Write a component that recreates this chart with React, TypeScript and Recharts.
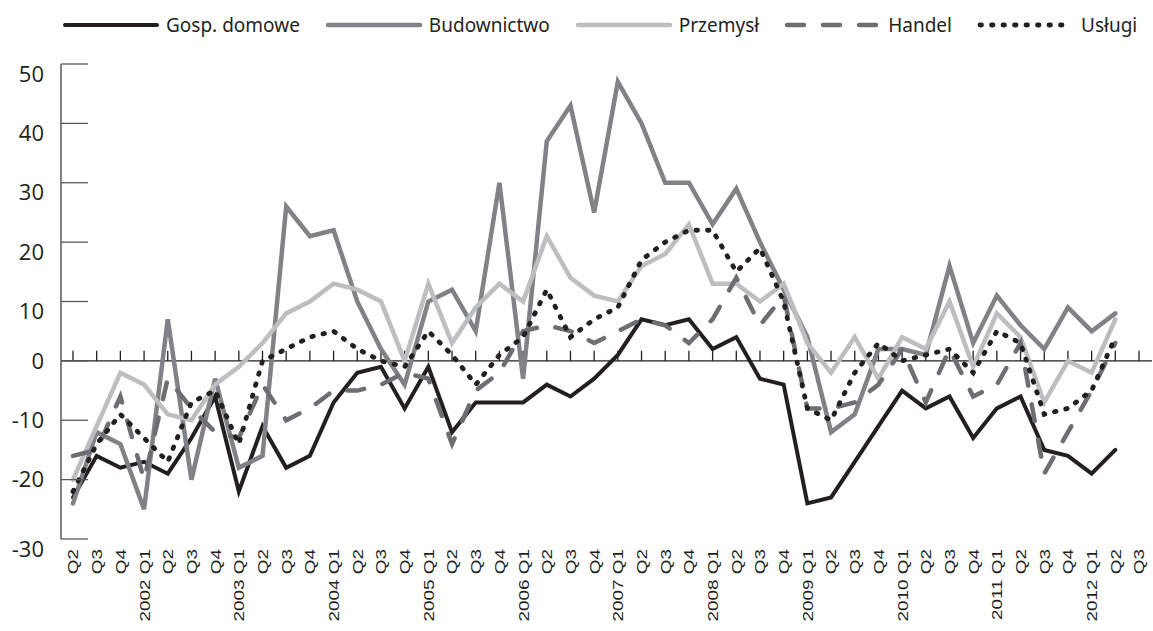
import { LineChart, Line, XAxis, YAxis, ReferenceLine } from 'recharts';

// quarters 2001 Q2 .. 2012 Q3
const periods = [
  '2001Q2', '2001Q3', '2001Q4',
  '2002Q1', '2002Q2', '2002Q3', '2002Q4',
  '2003Q1', '2003Q2', '2003Q3', '2003Q4',
  '2004Q1', '2004Q2', '2004Q3', '2004Q4',
  '2005Q1', '2005Q2', '2005Q3', '2005Q4',
  '2006Q1', '2006Q2', '2006Q3', '2006Q4',
  '2007Q1', '2007Q2', '2007Q3', '2007Q4',
  '2008Q1', '2008Q2', '2008Q3', '2008Q4',
  '2009Q1', '2009Q2', '2009Q3', '2009Q4',
  '2010Q1', '2010Q2', '2010Q3', '2010Q4',
  '2011Q1', '2011Q2', '2011Q3', '2011Q4',
  '2012Q1', '2012Q2', '2012Q3',
];

const tickLabels = [
  'Q2', 'Q3', 'Q4',
  '2002 Q1', 'Q2', 'Q3', 'Q4',
  '2003 Q1', 'Q2', 'Q3', 'Q4',
  '2004 Q1', 'Q2', 'Q3', 'Q4',
  '2005 Q1', 'Q2', 'Q3', 'Q4',
  '2006 Q1', 'Q2', 'Q3', 'Q4',
  '2007 Q1', 'Q2', 'Q3', 'Q4',
  '2008 Q1', 'Q2', 'Q3', 'Q4',
  '2009 Q1', 'Q2', 'Q3', 'Q4',
  '2010 Q1', 'Q2', 'Q3', 'Q4',
  '2011 Q1', 'Q2', 'Q3', 'Q4',
  '2012 Q1', 'Q2', 'Q3',
];

const yTicks = [-30, -20, -10, 0, 10, 20, 30, 40, 50];

const gospDomowe = [-23, -16, -18, -17, -19, -13, -6, -22, -11, -18, -16, -7, -2, -1, -8, -1, -12, -7, -7, -7, -4, -6, -3, 1, 7, 6, 7, 2, 4, -3, -4, -24, -23, -17, -11, -5, -8, -6, -13, -8, -6, -15, -16, -19, -15, null];
const budownictwo = [-24, -12, -14, -25, 7, -20, -3, -18, -16, 26, 21, 22, 10, 2, -4, 10, 12, 5, 30, -3, 37, 43, 25, 47, 40, 30, 30, 23, 29, 20, 12, 4, -12, -9, 2, 2, 1, 16, 3, 11, 6, 2, 9, 5, 8, null];
const przemysl = [-20, -11, -2, -4, -9, -10, -4, -1, 3, 8, 10, 13, 12, 10, 0, 13, 3, 9, 13, 10, 21, 14, 11, 10, 16, 18, 23, 13, 13, 10, 13, 3, -2, 4, -3, 4, 2, 10, -1, 8, 4, -7, 0, -2, 7, null];
const handel = [-16, -15, -6, -20, -3, -8, -12, -13, -4, -10, -8, -5, -5, -4, -2, -3, -14, -5, -2, 5, 6, 5, 3, 5, 7, 6, 3, 7, 14, 6, 11, -8, -8, -7, -4, 2, -7, 2, -6, -4, 3, -19, -12, -5, 3, null];
const uslugi = [-22, -14, -9, -13, -17, -7, -5, -14, 0, 2, 4, 5, 2, 0, -1, 5, 1, -4, 1, 4, 12, 4, 7, 9, 17, 20, 22, 22, 15, 19, 10, -8, -10, -2, 3, 0, 1, 2, -2, 5, 3, -9, -8, -5, 4, null];

const series = [
  { key: 'gosp', name: 'Gosp. domowe', color: '#231f20', width: 4, dash: undefined as string | undefined },
  { key: 'bud', name: 'Budownictwo', color: '#808285', width: 4.5, dash: undefined },
  { key: 'prz', name: 'Przemysł', color: '#bcbec0', width: 4.5, dash: undefined },
  { key: 'han', name: 'Handel', color: '#6d6e71', width: 4.5, dash: '17 19' },
  { key: 'usl', name: 'Usługi', color: '#231f20', width: 4.8, dash: '1.5 10' },
];

const data = periods.map((p, i) => ({
  period: p,
  gosp: gospDomowe[i],
  bud: budownictwo[i],
  prz: przemysl[i],
  han: handel[i],
  usl: uslugi[i],
}));

const AXIS = '#58595b';

const YTick = (props: any) => {
  const { x, y, payload } = props;
  const v = payload.value;
  // labels above zero sit a bit under their tick in the original
  const shift = v > 0 || v === -30 ? 10 : 0;
  return (
    <g>
      <line x1={x} x2={x + 27} y1={y} y2={y} stroke={AXIS} strokeWidth={1.3} />
      <text x={x - 17} y={y + shift} dy="0.35em" textAnchor="end" fontSize={22} fontFamily="Open Sans" fill="#231f20">
        {v}
      </text>
    </g>
  );
};

const XTick = (props: any) => {
  const { x, y, payload } = props;
  const label = tickLabels[periods.indexOf(payload.value)];
  return (
    <text
      transform={`translate(${x},${y + 10}) rotate(-90) scale(1.22,1)`}
      dy="0.35em"
      textAnchor="end"
      fontSize={15.5}
      fontFamily="Liberation Sans"
      fill="#231f20"
    >
      {label}
    </text>
  );
};

function Legend() {
  return (
    <div
      style={{
        position: 'absolute',
        top: 12,
        left: 62,
        display: 'flex',
        alignItems: 'center',
        fontFamily: 'Noto Sans',
        fontSize: 19,
        color: '#231f20',
        whiteSpace: 'nowrap',
      }}
    >
      {series.map((s) => (
        <div key={s.key} style={{ display: 'flex', alignItems: 'center', marginRight: 25 }}>
          <svg width={98} height={10} style={{ marginRight: 6 }}>
            <line
              x1={3}
              x2={95}
              y1={5}
              y2={5}
              stroke={s.color}
              strokeWidth={s.width}
              strokeDasharray={s.dash}
              strokeLinecap="round"
            />
          </svg>
          <span>{s.name}</span>
        </div>
      ))}
    </div>
  );
}

export default function App() {
  return (
    <div style={{ position: 'absolute', left: 0, top: 0, width: 1153, height: 631, background: '#fff' }}>
      <Legend />
      <LineChart width={1153} height={631} data={data} margin={{ top: 64, right: 1, bottom: 0, left: 0 }}>
        <XAxis
          dataKey="period"
          interval={0}
          height={92}
          axisLine={false}
          tickLine={false}
          tickSize={0}
          tickMargin={0}
          padding={{ left: 12, right: 13 }}
          tick={<XTick />}
        />
        <YAxis
          domain={[-30, 50]}
          ticks={yTicks}
          width={61}
          axisLine={{ stroke: AXIS, strokeWidth: 1.5 }}
          tickLine={false}
          tickSize={0}
          tickMargin={0}
          tick={<YTick />}
          allowDataOverflow
        />
        <ReferenceLine y={0} stroke="#231f20" strokeWidth={1.3} />
        {periods.map((p) => (
          <ReferenceLine
            key={p}
            segment={[{ x: p, y: 0 }, { x: p, y: 1.7 }]}
            stroke="#231f20"
            strokeWidth={1.3}
          />
        ))}
        {series.map((s) => (
          <Line
            key={s.key}
            type="linear"
            dataKey={s.key}
            name={s.name}
            stroke={s.color}
            strokeWidth={s.width}
            strokeDasharray={s.dash}
            strokeLinecap="round"
            strokeLinejoin="miter"
            dot={false}
            activeDot={false}
            isAnimationActive={false}
          />
        ))}
      </LineChart>
    </div>
  );
}
